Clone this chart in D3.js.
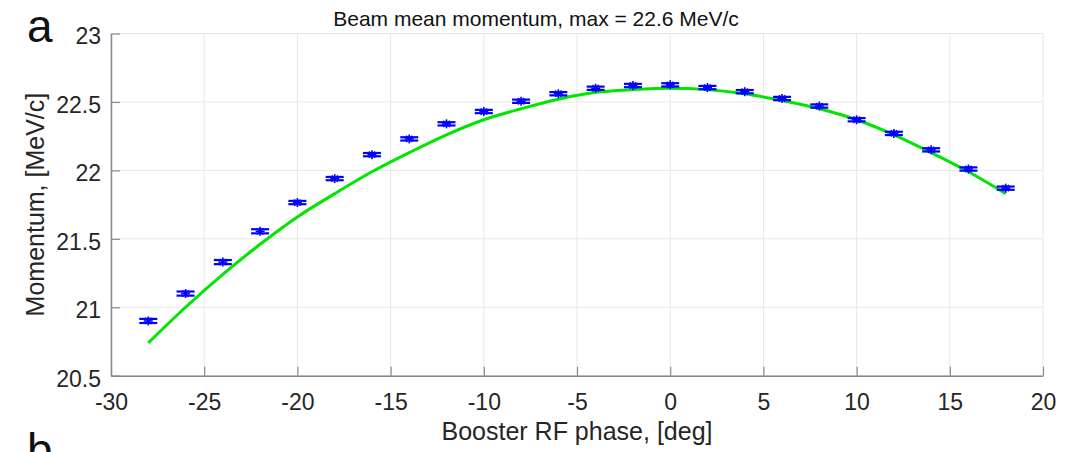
<!DOCTYPE html>
<html>
<head>
<meta charset="utf-8">
<script src="https://cdn.jsdelivr.net/npm/d3@7"></script>
<style>
  html, body { margin: 0; padding: 0; background: #fff; }
  svg { display: block; font-family: Arial, "Liberation Sans", Helvetica, sans-serif; }
</style>
</head>
<body>
<svg id="chart" width="1073" height="452"></svg>
<script>
// Measured beam momentum vs booster RF phase
const phase = [-28, -26, -24, -22, -20, -18, -16, -14, -12, -10, -8, -6, -4, -2, 0, 2, 4, 6, 8, 10, 12, 14, 16, 18];
const momentum = [20.90, 21.10, 21.33, 21.555, 21.765, 21.94, 22.115, 22.23, 22.34, 22.43, 22.505, 22.56,
                  22.60, 22.62, 22.625, 22.605, 22.575, 22.525, 22.47, 22.37, 22.27, 22.15, 22.01, 21.87];
const momentumErr = [0.015, 0.015, 0.015, 0.015, 0.012, 0.012, 0.012, 0.012, 0.012, 0.012, 0.012, 0.012,
                     0.012, 0.012, 0.012, 0.012, 0.012, 0.012, 0.012, 0.012, 0.012, 0.012, 0.012, 0.012];

// Fitted curve through the measurements
const fitPhase = [-28, -26, -24, -22, -20, -18, -16, -14, -12, -10, -8, -6, -4, -2, 0, 2, 4, 6, 8, 10, 12, 14, 16, 18];
const fitMomentum = [20.74, 21.00, 21.24, 21.46, 21.66, 21.83, 21.99, 22.13, 22.26, 22.37, 22.45, 22.52,
                     22.57, 22.59, 22.60, 22.59, 22.56, 22.51, 22.45, 22.37, 22.26, 22.13, 21.99, 21.83];

const xTicks = [-30, -25, -20, -15, -10, -5, 0, 5, 10, 15, 20];
const yTicks = [20.5, 21, 21.5, 22, 22.5, 23];

const titleText = "Beam mean momentum, max = 22.6 MeV/c";
const xLabel = "Booster RF phase, [deg]";
const yLabel = "Momentum, [MeV/c]";

const svg = d3.select("#chart");
const plotLeft = 111, plotRight = 1043, plotTop = 33.5, plotBottom = 375.7;

const x = d3.scaleLinear().domain([-30, 20]).range([plotLeft, plotRight]);
const y = d3.scaleLinear().domain([20.5, 23]).range([plotBottom, plotTop]);

// grid
const grid = svg.append("g").attr("stroke", "#e8e8e8").attr("stroke-width", 1);
grid.selectAll("line.v").data(xTicks).join("line").attr("class", "v")
  .attr("x1", d => x(d)).attr("x2", d => x(d)).attr("y1", plotTop).attr("y2", plotBottom);
grid.selectAll("line.h").data(yTicks).join("line").attr("class", "h")
  .attr("x1", plotLeft).attr("x2", plotRight).attr("y1", d => y(d)).attr("y2", d => y(d));

// axes (ticks pointing inward)
const axisColor = "#8a8a8a";
const textColor = "#262626";
const xAxis = svg.append("g").attr("transform", `translate(0,${plotBottom})`)
  .call(d3.axisBottom(x).tickValues(xTicks).tickFormat(d3.format("d"))
    .tickSizeInner(-9).tickSizeOuter(0).tickPadding(18));
const yAxis = svg.append("g").attr("transform", `translate(${plotLeft},0)`)
  .call(d3.axisLeft(y).tickValues(yTicks).tickFormat(d => String(d))
    .tickSizeInner(-9).tickSizeOuter(0).tickPadding(10));
[xAxis, yAxis].forEach(a => {
  a.select(".domain").attr("stroke", axisColor).attr("stroke-width", 1.5);
  a.selectAll(".tick line").attr("stroke", axisColor).attr("stroke-width", 1.2);
  a.selectAll(".tick text").attr("fill", textColor).attr("font-size", 23)
    .attr("font-family", "Arial, 'Liberation Sans', sans-serif");
});
xAxis.selectAll(".tick text").text(d => d < 0 ? "-" + Math.abs(d) : String(d));
yAxis.selectAll(".tick text").attr("dy", "0.45em");

// fitted curve
const line = d3.line().x((d, i) => x(fitPhase[i])).y(d => y(d)).curve(d3.curveCatmullRom);
svg.append("path").datum(fitMomentum)
  .attr("d", line).attr("fill", "none").attr("stroke", "#00e600").attr("stroke-width", 3);

// measurements with error bars
const capHalf = 9, star = 4.5;
const pts = svg.append("g").attr("stroke", "#0000ff").attr("stroke-width", 2.2).attr("fill", "none");
phase.forEach((p, i) => {
  const cx = x(p), cy = y(momentum[i]);
  const yHi = y(momentum[i] + momentumErr[i]), yLo = y(momentum[i] - momentumErr[i]);
  const g = pts.append("g");
  g.append("line").attr("x1", cx).attr("x2", cx).attr("y1", yHi).attr("y2", yLo);
  g.append("line").attr("x1", cx - capHalf).attr("x2", cx + capHalf).attr("y1", yHi).attr("y2", yHi);
  g.append("line").attr("x1", cx - capHalf).attr("x2", cx + capHalf).attr("y1", yLo).attr("y2", yLo);
  // asterisk marker
  g.append("line").attr("x1", cx).attr("x2", cx).attr("y1", cy - star).attr("y2", cy + star).attr("stroke-width", 1.6);
  g.append("line").attr("x1", cx - star).attr("x2", cx + star).attr("y1", cy).attr("y2", cy).attr("stroke-width", 1.6);
  g.append("line").attr("x1", cx - star * 0.7).attr("x2", cx + star * 0.7).attr("y1", cy - star * 0.7).attr("y2", cy + star * 0.7).attr("stroke-width", 1.4);
  g.append("line").attr("x1", cx - star * 0.7).attr("x2", cx + star * 0.7).attr("y1", cy + star * 0.7).attr("y2", cy - star * 0.7).attr("stroke-width", 1.4);
});

// title and axis labels
svg.append("text").attr("x", 536).attr("y", 26).attr("text-anchor", "middle")
  .attr("font-size", 21).attr("fill", "#111").text(titleText);
svg.append("text").attr("x", (plotLeft + plotRight) / 2).attr("y", 440).attr("text-anchor", "middle")
  .attr("font-size", 25).attr("fill", textColor).text(xLabel);
svg.append("text").attr("transform", `translate(44,${(plotTop + plotBottom) / 2}) rotate(-90)`)
  .attr("text-anchor", "middle").attr("font-size", 25).attr("fill", textColor).text(yLabel);

// panel letters (the next panel's letter sits at the bottom edge)
svg.append("text").attr("x", 27).attr("y", 42).attr("font-size", 46).attr("fill", "#111").text("a");
svg.append("text").attr("x", 27).attr("y", 466).attr("font-size", 46).attr("fill", "#111").text("b");
</script>
</body>
</html>
